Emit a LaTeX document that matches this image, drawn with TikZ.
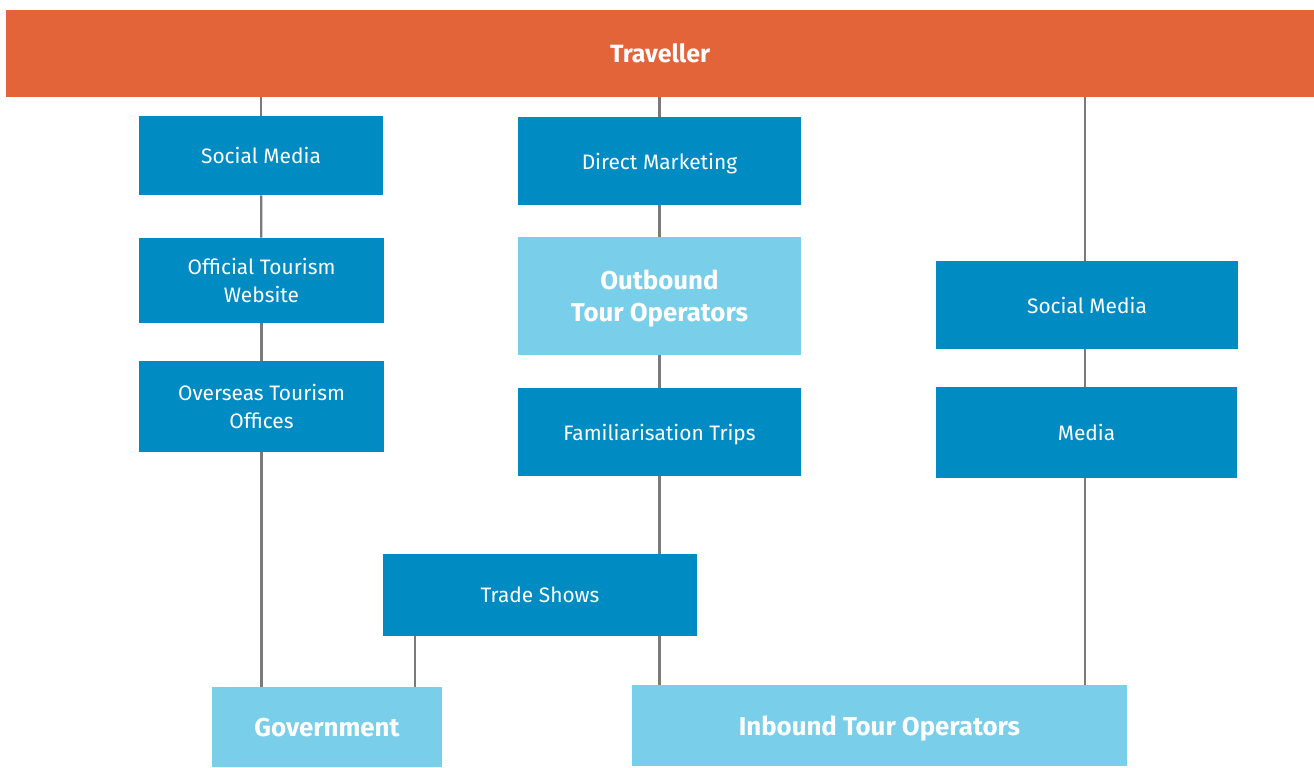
\documentclass[tikz,border=0pt]{standalone}
\usepackage{fontspec}
\setmainfont{Fira Sans}
\definecolor{travorange}{HTML}{E4643A}
\definecolor{chandark}{HTML}{018BC3}
\definecolor{chanlight}{HTML}{79CEEA}
\definecolor{linkgrey}{HTML}{7A7A7A}
\tikzset{
	box/.style={inner sep=0pt, align=center, text=white, text depth=0pt},
	channel/.style={box, fill=chandark, font=\fontsize{11.9}{16}\selectfont},
	player/.style={box, fill=chanlight, font=\bfseries\fontsize{14.7}{18}\selectfont},
	link/.style={draw=linkgrey, line width=1.3pt}
}
\begin{document}
\begin{tikzpicture}[x=0.02cm, y=-0.02cm]
				\useasboundingbox (0,0) rectangle (1314,767);
				%traveller
				\node[box, fill=travorange, font=\bfseries\fontsize{14.2}{16}\selectfont, minimum width=26.16cm, minimum height=1.74cm] (trav) at (660,53.5) {Traveller};
				%linke reihe
				\node[channel, minimum width=4.88cm, minimum height=1.58cm] (smL) at (261,155.5) {Social Media};
				\node[channel, minimum width=4.9cm, minimum height=1.7cm] (web) at (261.5,280.5) {Official Tourism\\Website};
				\node[channel, minimum width=4.9cm, minimum height=1.82cm] (off) at (261.5,406.5) {Overseas Tourism\\Offices};
				%mittlere reihe
				\node[channel, minimum width=5.66cm, minimum height=1.76cm] (dm) at (659.5,161) {Direct Marketing};
				\node[player, minimum width=5.66cm, minimum height=2.36cm] (out) at (659.5,296) {Outbound\\Tour Operators};
				\node[channel, minimum width=5.66cm, minimum height=1.76cm] (fam) at (659.5,432) {Familiarisation Trips};
				\node[channel, minimum width=6.28cm, minimum height=1.64cm] (trade) at (540,595) {Trade Shows};
				%rechte reihe
				\node[channel, minimum width=6.04cm, minimum height=1.76cm] (smR) at (1087,305) {Social Media};
				\node[channel, minimum width=6.02cm, minimum height=1.82cm] (med) at (1086.5,432.5) {Media};
				%unten
				\node[player, minimum width=4.6cm, minimum height=1.6cm] (gov) at (327,727) {Government};
				\node[player, minimum width=9.9cm, minimum height=1.62cm] (inb) at (879.5,725.5) {Inbound Tour Operators};
				%verbindungen
				\draw[link] (trav.south -| smL) -- (smL);
				\draw[link] (smL) -- (web);
				\draw[link] (web) -- (off);
				\draw[link] (off.south) -- (off.south |- gov.north);
				\draw[link] (trav.south -| dm) -- (dm);
				\draw[link] (dm) -- (out);
				\draw[link] (out) -- (fam);
				\draw[link] (fam.south) -- (trade.north -| fam.south);
				\draw[link] (trade.south -| fam.south) -- (inb.north -| fam.south);
				\draw[link] ([xshift=0.64cm]trade.south west) -- ([xshift=0.64cm]trade.south west |- gov.north);
				\draw[link] ([xshift=-0.04cm]trav.south -| smR) -- ([xshift=-0.04cm]smR.north);
				\draw[link] ([xshift=-0.04cm]smR.south) -- ([xshift=-0.04cm]med.north -| smR.south);
				\draw[link] ([xshift=-0.03cm]med.south) -- ([xshift=-0.03cm]med.south |- inb.north);
\end{tikzpicture}
\end{document}
